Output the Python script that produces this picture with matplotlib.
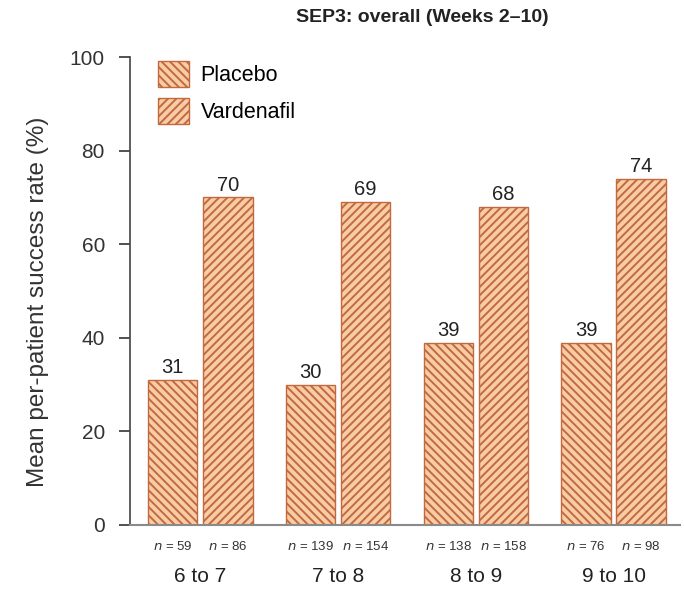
import matplotlib
matplotlib.use('Agg')
import matplotlib.pyplot as plt
import numpy as np

# data
groups = ['6 to 7', '7 to 8', '8 to 9', '9 to 10']
placebo = [31, 30, 39, 39]
vardenafil = [70, 69, 68, 74]
n_placebo = [59, 139, 138, 76]
n_vard = [86, 154, 158, 98]

face = '#f8cca6'
hatch_col = '#c26a3e'
plt.rcParams['hatch.linewidth'] = 1.4
plt.rcParams['font.family'] = 'Liberation Sans'

fig = plt.figure(figsize=(6.84, 5.89), dpi=100)
ax = fig.add_axes([0.190, 0.1087, 0.804, 0.7943])

x = np.arange(len(groups))
w = 0.36
off = 0.2
ax.bar(x - off, placebo, w, facecolor=face, edgecolor=hatch_col, hatch='\\\\\\\\', linewidth=1.0, label='Placebo')
ax.bar(x + off, vardenafil, w, facecolor=face, edgecolor=hatch_col, hatch='////', linewidth=1.0, label='Vardenafil')

for i in range(len(groups)):
    ax.text(x[i] - off, placebo[i] + 0.6, str(placebo[i]), ha='center', va='bottom', fontsize=14.5, color='#222222')
    ax.text(x[i] + off, vardenafil[i] + 0.6, str(vardenafil[i]), ha='center', va='bottom', fontsize=14.5, color='#222222')
    ax.text(x[i] - off, -3.3, r'$\it{n}$ = %d' % n_placebo[i], ha='center', va='top', fontsize=9.5, color='#333333')
    ax.text(x[i] + off, -3.3, r'$\it{n}$ = %d' % n_vard[i], ha='center', va='top', fontsize=9.5, color='#333333')
    ax.text(x[i], -8.9, groups[i], ha='center', va='top', fontsize=15, color='#222222')

ax.set_xlim(-0.51, 3.48)
ax.set_ylim(0, 100)
ax.set_yticks([0, 20, 40, 60, 80, 100])
ax.set_xticks([])
ax.tick_params(axis='y', labelsize=15, length=8, width=1.2, pad=10, colors='#333333')
ax.set_ylabel('Mean per-patient success rate (%)', fontsize=17.5, color='#333333')
ax.yaxis.set_label_coords(-0.148, 1 - (302 - 57) / 468)
for s in ['top', 'right']:
    ax.spines[s].set_visible(False)
ax.spines['left'].set_color('#444444')
ax.spines['left'].set_linewidth(1.2)
ax.spines['bottom'].set_color('#8a8a8a')
ax.spines['bottom'].set_linewidth(1.5)

fig.text(422 / 684, 1 - 18 / 589, 'SEP3: overall (Weeks 2\u201310)', ha='center', va='center',
         fontsize=14, fontweight='bold', color='#222222')

fig.legend(loc='upper left', bbox_to_anchor=(147 / 684, 1 - 50 / 589), frameon=False, fontsize=15.5,
           borderpad=0, handlelength=1.44, handleheight=1.5, handletextpad=0.55, labelspacing=0.5)

fig.savefig('out.png', dpi=100)
